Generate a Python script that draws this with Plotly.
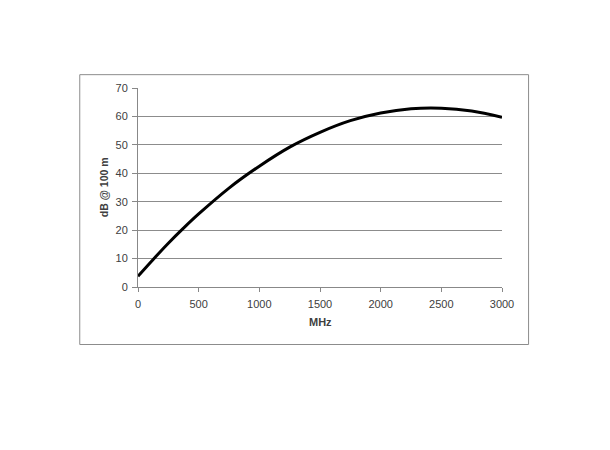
import plotly.graph_objects as go

mhz = [0, 125, 250, 375, 500, 750, 1000, 1250, 1500, 1750, 2000, 2250, 2500, 2750, 3000]
db_100m = [3.8, 9.7, 15.4, 20.7, 25.7, 34.8, 42.5, 49.2, 54.4, 58.5, 61.2, 62.7, 62.9, 61.9, 59.7]
x_ticks = [0, 500, 1000, 1500, 2000, 2500, 3000]
y_ticks = [0, 10, 20, 30, 40, 50, 60, 70]

fig = go.Figure()
fig.add_trace(go.Scatter(x=mhz, y=db_100m, mode="lines",
                         line=dict(color="black", width=3, shape="spline", smoothing=1.0),
                         showlegend=False, hoverinfo="skip"))

font = dict(family="Liberation Sans, Arial, sans-serif", size=11, color="#404040")

fig.update_layout(
    width=610, height=450,
    margin=dict(l=130, r=116, t=80, b=171),
    paper_bgcolor="white", plot_bgcolor="white",
    font=font,
    xaxis=dict(range=[0, 3000], tickvals=x_ticks, showgrid=False, zeroline=False,
               showline=True, linecolor="#888888", linewidth=1,
               ticks="outside", ticklen=4, tickcolor="#888888", tickfont=font,
               ticklabelstandoff=3),
    yaxis=dict(range=[0, 70], tickvals=y_ticks, showgrid=True, gridcolor="#8c8c8c",
               gridwidth=1, zeroline=False, showline=True, linecolor="#888888",
               linewidth=1, ticks="outside", ticklen=5, tickcolor="#888888",
               tickfont=font, ticklabelstandoff=2),
    shapes=[dict(type="rect", xref="paper", yref="paper",
                 x0=-0.160, x1=1.073, y0=-0.289, y1=1.067,
                 line=dict(color="#8c8c8c", width=1), fillcolor="rgba(0,0,0,0)",
                 layer="below")],
    annotations=[
        dict(text="<b>MHz</b>", xref="paper", yref="paper", x=0.5, y=-0.178,
             showarrow=False, xanchor="center", yanchor="middle",
             font=dict(family="Liberation Sans, Arial, sans-serif", size=11, color="#404040")),
        dict(text="<b>dB @ 100 m</b>", xref="paper", yref="paper", x=-0.094, y=0.5,
             showarrow=False, xanchor="center", yanchor="middle", textangle=-90,
             font=dict(family="Liberation Sans, Arial, sans-serif", size=10.5, color="#404040")),
    ],
)

fig.write_html("out.html")
